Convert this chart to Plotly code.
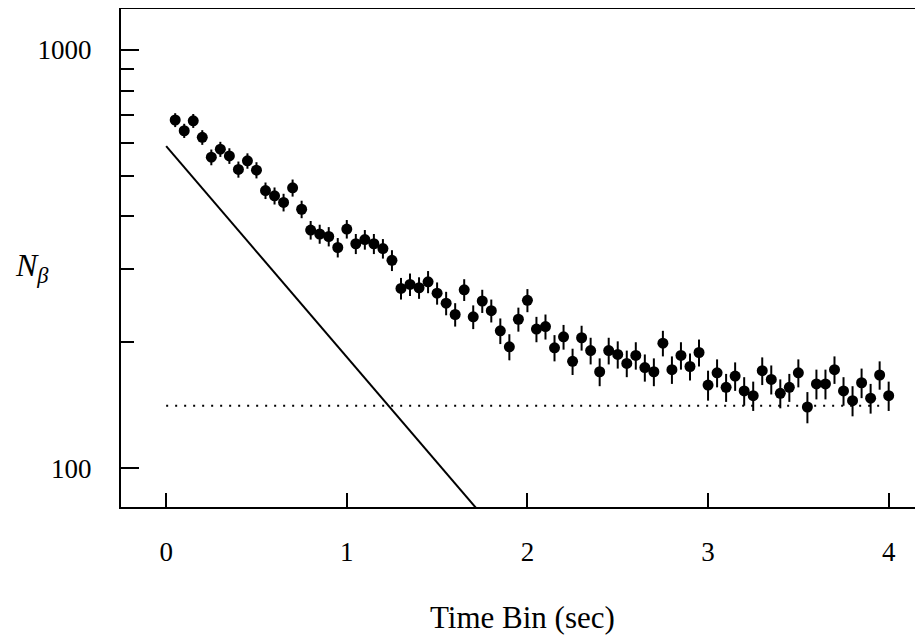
import plotly.graph_objects as go

# time bins (sec) and beta counts
time_bin = [round(0.05 * (i + 1), 2) for i in range(80)]
counts = [680, 641, 677, 618, 554, 579, 558, 518, 543, 516,
          461, 448, 432, 468, 416, 371, 363, 358, 337, 373,
          344, 352, 344, 335, 314, 269, 275, 270, 279, 262,
          248, 233, 267, 230, 251, 238, 213, 195, 227, 252,
          215, 218, 194, 206, 180, 205, 191, 170, 191, 187,
          178, 186, 174, 170, 199, 172, 186, 175, 189, 158,
          169, 156, 166, 153, 149, 171, 163, 151, 156, 169,
          140, 159, 159, 172, 153, 145, 160, 147, 167, 149]
errors = [26, 25, 26, 25, 24, 24, 24, 23, 23, 23,
          21, 21, 21, 22, 20, 19, 19, 19, 18, 19,
          19, 19, 19, 18, 18, 16, 17, 16, 17, 16,
          16, 15, 16, 15, 16, 15, 15, 14, 15, 16,
          15, 15, 14, 14, 13, 14, 14, 13, 14, 14,
          13, 14, 13, 13, 14, 13, 14, 13, 14, 13,
          13, 12, 13, 12, 12, 13, 13, 12, 12, 13,
          12, 13, 13, 13, 12, 12, 13, 12, 13, 12]

# decay component (solid) and constant background (dotted)
decay_t = [0.0, 1.8]
decay_n = [589, 72.8]
bkg_t = [0.0, 3.98]
bkg_n = [141, 141]

font = "Liberation Serif"

fig = go.Figure()
fig.add_trace(go.Scatter(x=decay_t, y=decay_n, mode="lines",
                         line=dict(color="black", width=2)))
fig.add_trace(go.Scatter(x=bkg_t, y=bkg_n, mode="lines",
                         line=dict(color="black", width=2, dash="2px,7px")))
fig.add_trace(go.Scatter(
    x=time_bin, y=counts, mode="markers",
    marker=dict(color="black", size=11),
    error_y=dict(type="data", array=errors, color="black", thickness=2, width=0),
))

# page body has an 8px margin, so the figure is sized to fill what is left
fig.update_layout(
    width=915, height=629,
    margin=dict(l=113, r=0, t=1, b=130),
    paper_bgcolor="white", plot_bgcolor="white",
    showlegend=False,
    font=dict(family=font, size=27, color="black"),
    xaxis=dict(
        range=[-0.25, 4.19], showgrid=False, zeroline=False, automargin=False,
        showline=True, linecolor="black", linewidth=2, mirror=True,
        tickvals=[0, 1, 2, 3, 4], ticks="inside", ticklen=14, tickwidth=2,
        tickcolor="black", ticklabelstandoff=20,
    ),
    yaxis=dict(
        type="log", range=[1.907, 3.098], showgrid=False, zeroline=False,
        automargin=False,
        showline=True, linecolor="black", linewidth=2,
        tickvals=[100, 1000], ticktext=["100", "1000"],
        ticks="inside", ticklen=18, tickwidth=2, tickcolor="black",
        ticklabelstandoff=22,
        minor=dict(tickvals=[200, 300, 400, 500, 600, 700, 800, 900],
                   ticks="inside", ticklen=13, tickwidth=2, tickcolor="black"),
    ),
    annotations=[
        dict(text="Time Bin (sec)", xref="paper", yref="paper", x=0.5, y=0,
             yshift=-130, showarrow=False, font=dict(size=31)),
        dict(text="<i>N</i><sub><i>β</i></sub>", xref="paper", yref="paper",
             x=0, y=0.48, xshift=-89, xanchor="center", showarrow=False,
             font=dict(size=32)),
    ],
)

fig.write_html("out.html")
